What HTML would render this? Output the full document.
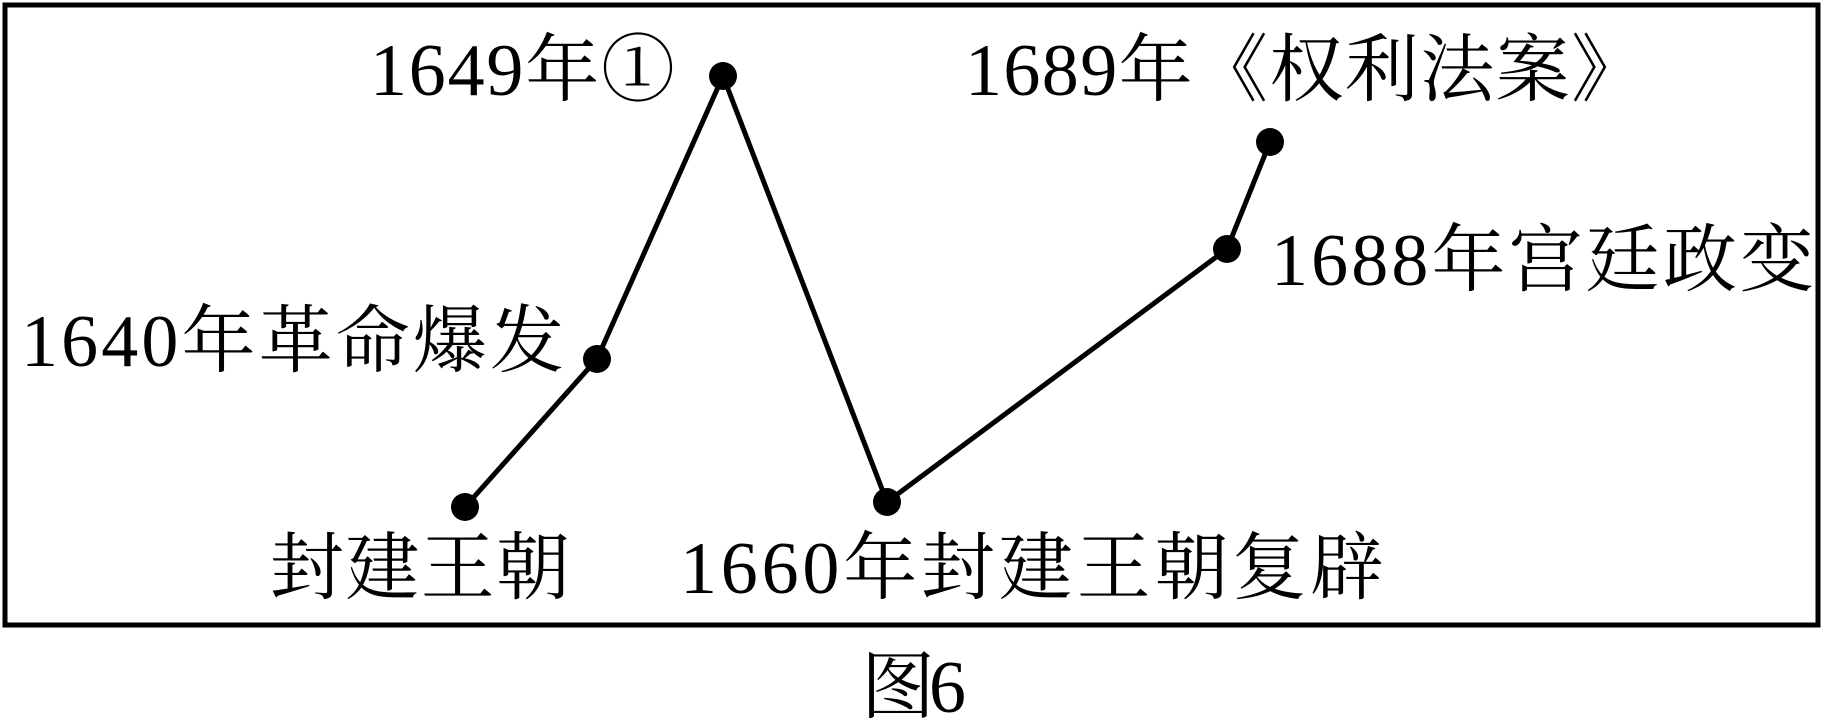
<!DOCTYPE html>
<html><head><meta charset="utf-8"><style>html,body{margin:0;padding:0;background:#fff;}svg{display:block}</style></head>
<body>
<svg width="1824" height="722" viewBox="0 0 1824 722" xmlns="http://www.w3.org/2000/svg">
<rect x="5" y="5" width="1813" height="620" fill="none" stroke="#000" stroke-width="5"/>
<polyline points="465,507 597,359 723,76 887,502 1227,249 1270,142" fill="none" stroke="#000" stroke-width="5"/>
<g fill="#000">
<circle cx="465" cy="507" r="14"/><circle cx="597" cy="359" r="14"/><circle cx="723" cy="76" r="14"/>
<circle cx="887" cy="502" r="14"/><circle cx="1227" cy="249" r="14"/><circle cx="1270" cy="142" r="14"/>
</g>
<g font-family="'Liberation Serif','Noto Serif CJK SC',serif" font-size="74" fill="#000">
<text x="370" y="95" textLength="305" lengthAdjust="spacing">1649年①</text>
<text x="21" y="366" textLength="543" lengthAdjust="spacing">1640年革命爆发</text>
<text x="270" y="593" textLength="300" lengthAdjust="spacing">封建王朝</text>
<text x="680" y="593" textLength="704" lengthAdjust="spacing">1660年封建王朝复辟</text>
<text x="965" y="95" textLength="680" lengthAdjust="spacing">1689年《权利法案》</text>
<text x="1271" y="285" textLength="543" lengthAdjust="spacing">1688年宫廷政变</text>
<text x="861" y="712" textLength="105" lengthAdjust="spacing">图6</text>
</g>
</svg>
</body></html>
